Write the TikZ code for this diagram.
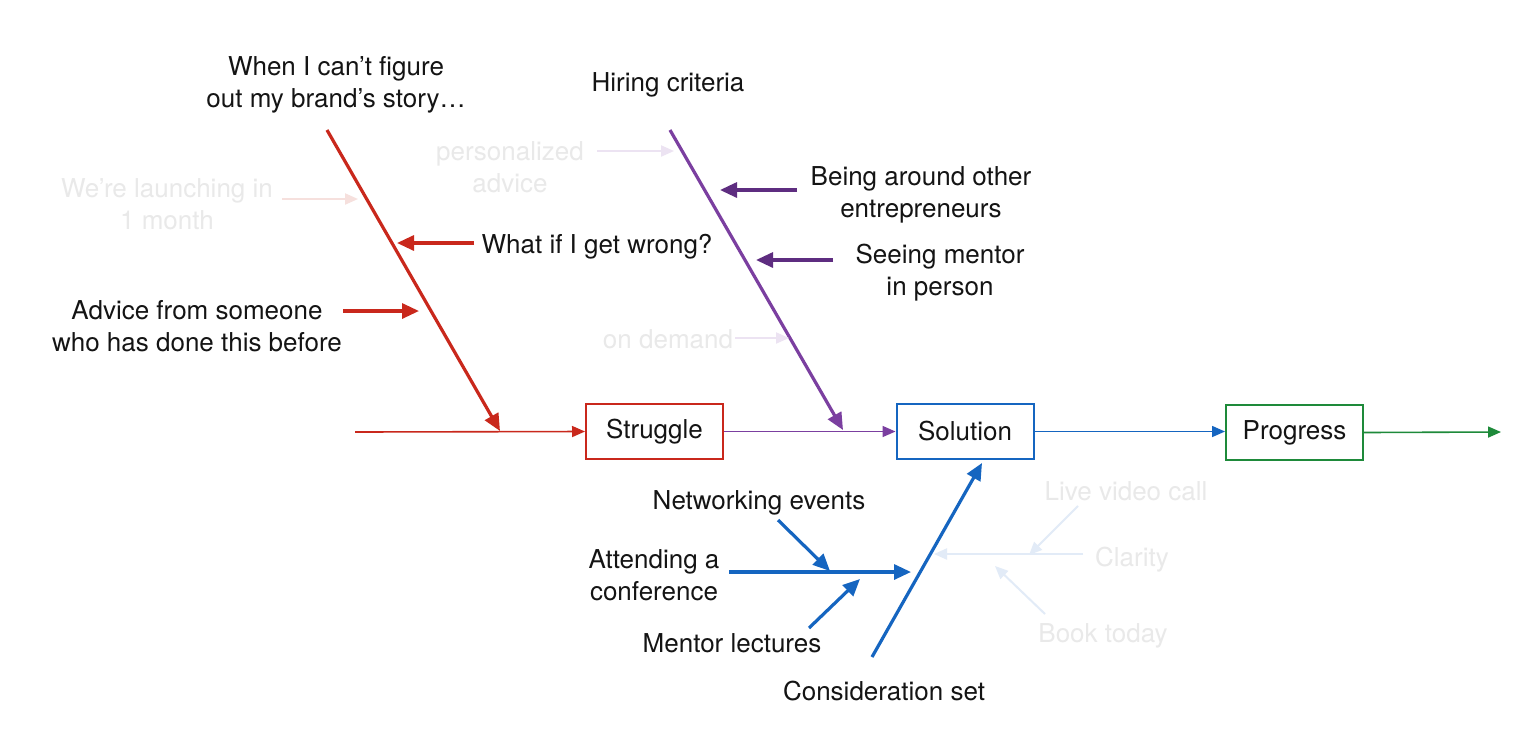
\documentclass[tikz,border=0pt]{standalone}
\usepackage{fontspec}
\setmainfont{TeX Gyre Heros}
\usetikzlibrary{arrows.meta}
\definecolor{cred}{HTML}{C9281C}
\definecolor{cpurple}{HTML}{7B3FA0}
\definecolor{cdpurple}{HTML}{5E2D80}
\definecolor{cblue}{HTML}{1565C0}
\definecolor{cgreen}{HTML}{1E8A3A}
\definecolor{ftext}{HTML}{E9E9E9}
\definecolor{fred}{HTML}{F6E0DD}
\definecolor{fpurple}{HTML}{ECE3F2}
\definecolor{fblue}{HTML}{E2EBF7}
\definecolor{ink}{HTML}{141414}
\begin{document}
\begin{tikzpicture}[x=1pt,y=-1pt,
  font=\fontsize{26}{32}\selectfont,
  lbl/.style={align=center, inner sep=0pt, text=ink, yshift=-2pt},
  faint/.style={align=center, inner sep=0pt, text=ftext, yshift=-2pt},
  stagebox/.style={draw, line width=2pt, minimum width=137pt, minimum height=55pt, inner sep=0pt, text=ink},
  thinarr/.style={line width=1.6pt, -{Triangle[length=13pt,width=11pt]}},
  thickarr/.style={line width=3.2pt, -{Triangle[length=17pt,width=15pt]}},
  fainthick/.style={line width=2pt, -{Triangle[length=13pt,width=11pt]}},
]
\useasboundingbox (0,0) rectangle (1522,740);
\fill[white] (0,0) rectangle (1522,740);

% stage boxes
\node[stagebox,draw=cred] (struggle) at (654.5,431.5) {\raisebox{-3pt}{Struggle}};
\node[stagebox,draw=cblue] (solution) at (965,431.5) {\raisebox{-1pt}{Solution}};
\node[stagebox,draw=cgreen] (progress) at (1294.5,432.5) {\raisebox{-3pt}{Progress}};

% spine
\coordinate (start) at (355,432);
\coordinate (finish) at (1501,432);
\draw[thinarr,cred] (start) -- (struggle.west);
\draw[thinarr,cpurple] (struggle.east) -- (solution.west);
\draw[thinarr,cblue] (solution.east) -- (solution.east -| progress.west);
\draw[thinarr,cgreen] (progress.east) -- (finish);

% ---- red bone ----
\node[lbl] (whenI) at (336,83) {When I can’t figure\\out my brand’s story…};
\coordinate (r0) at (327,130);
\coordinate (r1) at (500,431);
\draw[thickarr,cred] (r0) -- (r1);

\node[faint] (launch) at (167,202) {We’re launching in\\1 month};
\coordinate (la0) at (282,199);
\coordinate (la1) at (358,199);
\draw[fainthick,fred] (la0) -- (la1);

\node[lbl] (whatif) at (597,245) {What if I get wrong?};
\coordinate (wi0) at (474,243);
\coordinate (wi1) at (397,243);
\draw[thickarr,cred] (wi0) -- (wi1);

\node[lbl] (advice) at (197,324) {Advice from someone\\who has done this before};
\coordinate (ad0) at (343,311);
\coordinate (ad1) at (419,311);
\draw[thickarr,cred] (ad0) -- (ad1);

% ---- purple bone ----
\node[lbl] (hiring) at (668,83) {Hiring criteria};
\coordinate (p0) at (670,130);
\coordinate (p1) at (843,430);
\draw[thickarr,cpurple] (p0) -- (p1);

\node[faint] (personal) at (510,165) {personalized\\advice};
\coordinate (pe0) at (597,151);
\coordinate (pe1) at (674,151);
\draw[fainthick,fpurple] (pe0) -- (pe1);

\node[lbl] (being) at (921,193) {Being around other\\entrepreneurs};
\coordinate (be0) at (797,190);
\coordinate (be1) at (720,190);
\draw[thickarr,cdpurple] (be0) -- (be1);

\node[lbl] (seeing) at (940,271) {Seeing mentor\\in person};
\coordinate (se0) at (833,260);
\coordinate (se1) at (756,260);
\draw[thickarr,cdpurple] (se0) -- (se1);

\node[faint] (ondemand) at (668,337) {on demand};
\coordinate (od0) at (735,338);
\coordinate (od1) at (789,338);
\draw[fainthick,fpurple] (od0) -- (od1);

% ---- blue bone ----
\node[lbl] (consid) at (884,689) {Consideration set};
\coordinate (b0) at (872,657);
\coordinate (b1) at (982,463);
\draw[thickarr,cblue] (b0) -- (b1);

\node[lbl] (attend) at (654,573) {Attending a\\conference};
\coordinate (at0) at (729,572);
\coordinate (at1) at (911,572);
\draw[thickarr,cblue] (at0) -- (at1);

\node[lbl] (network) at (759,501) {Networking events};
\coordinate (ne0) at (778,520);
\coordinate (ne1) at (830,571);
\draw[thickarr,cblue] (ne0) -- (ne1);

\node[lbl] (lectures) at (732,641) {Mentor lectures};
\coordinate (me0) at (809,628);
\coordinate (me1) at (860,579);
\draw[thickarr,cblue] (me0) -- (me1);

% faint blue group
\node[faint] (live) at (1126,489) {Live video call};
\node[faint] (clarity) at (1132,558) {Clarity};
\node[faint] (book) at (1103,634) {Book today};
\coordinate (cl0) at (1083,554);
\coordinate (cl1) at (934,554);
\draw[fainthick,fblue] (cl0) -- (cl1);
\coordinate (lv0) at (1078,506);
\coordinate (lv1) at (1029,555);
\draw[fainthick,fblue] (lv0) -- (lv1);
\coordinate (bk0) at (1045,614);
\coordinate (bk1) at (995,566);
\draw[fainthick,fblue] (bk0) -- (bk1);
\end{tikzpicture}
\end{document}
